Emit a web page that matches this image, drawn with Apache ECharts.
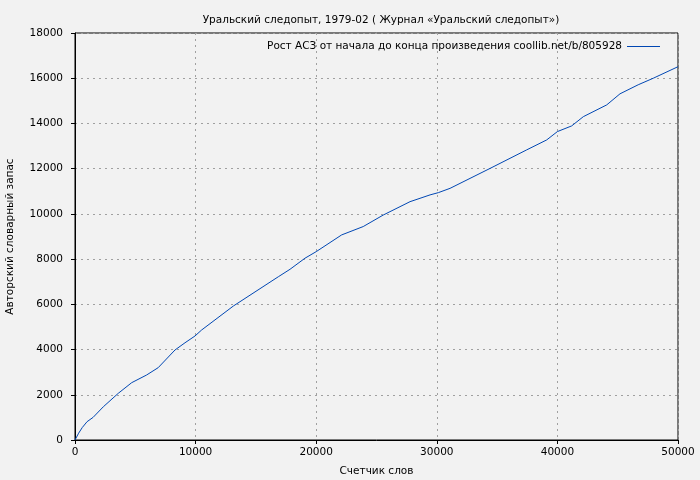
<!DOCTYPE html>
<html>
<head>
<meta charset="utf-8">
<script src="https://cdn.jsdelivr.net/npm/echarts@6/dist/echarts.min.js"></script>
<style>
  html, body { margin: 0; padding: 0; background: #f2f2f2; }
  #chart { width: 700px; height: 480px; }
</style>
</head>
<body>
<div id="chart"></div>
<script>
// words counted (x) and author's vocabulary (y)
var wordCount = [0, 300, 600, 1000, 1500, 2350, 3590, 4700, 5940, 6900, 8290, 9120, 9950,
  10500, 13130, 16860, 17830, 19070, 20000, 22110, 23900, 25560, 27780, 29440, 30130,
  31100, 34410, 37450, 39110, 40000, 41180, 42150, 44090, 45190, 46700, 47950, 50000];
var vocabulary = [0, 300, 550, 810, 1000, 1470, 2065, 2535, 2875, 3200, 3980, 4300, 4600,
  4865, 5925, 7220, 7550, 8040, 8330, 9070, 9440, 9950, 10540, 10840, 10940,
  11130, 12010, 12830, 13270, 13640, 13890, 14300, 14820, 15310, 15710, 16000, 16510];

var titleText = 'Уральский следопыт, 1979-02 ( Журнал «Уральский следопыт»)';
var seriesName = 'Рост АСЗ от начала до конца произведения coollib.net/b/805928';

var points = wordCount.map(function (x, i) { return [x, vocabulary[i]]; });

var chart = echarts.init(document.getElementById('chart'));
var font = 'DejaVu Sans';
var size = 10.5;
var plain = function (v) { return String(v); };
var option = {
  backgroundColor: '#f2f2f2',
  animation: false,
  title: {
    text: titleText,
    left: 376,
    textAlign: 'center',
    top: 10,
    textStyle: { fontFamily: font, fontSize: size, fontWeight: 'normal', color: '#000' }
  },
  legend: {
    data: [seriesName],
    right: 35,
    top: 36,
    align: 'right',
    itemWidth: 33,
    itemHeight: 1,
    itemGap: 5,
    icon: 'rect',
    textStyle: { fontFamily: font, fontSize: size, color: '#000' }
  },
  grid: {
    left: 75, right: 22, top: 33, bottom: 40,
    outerBoundsMode: 'none',
    show: true, borderColor: '#000', borderWidth: 1, backgroundColor: 'transparent'
  },
  xAxis: {
    type: 'value',
    min: 0, max: 50000, interval: 10000,
    name: 'Счетчик слов',
    nameLocation: 'middle',
    nameGap: 26,
    nameTextStyle: { fontFamily: font, fontSize: size, color: '#000' },
    axisLine: { lineStyle: { color: '#000', width: 1 } },
    axisTick: { inside: false, length: 4, lineStyle: { color: '#000' } },
    axisLabel: { fontFamily: font, fontSize: size, color: '#000', margin: 7, formatter: plain },
    splitLine: { show: true, lineStyle: { color: '#a0a0a0', type: [2, 4], width: 1 } }
  },
  yAxis: {
    type: 'value',
    min: 0, max: 18000, interval: 2000,
    name: 'Авторский словарный запас',
    nameLocation: 'middle',
    nameGap: 59,
    nameTextStyle: { fontFamily: font, fontSize: size, color: '#000' },
    axisLine: { show: true, lineStyle: { color: '#000', width: 1 } },
    axisTick: { show: true, inside: false, length: 4, lineStyle: { color: '#000' } },
    axisLabel: { fontFamily: font, fontSize: size, color: '#000', margin: 12, formatter: plain },
    splitLine: { show: true, lineStyle: { color: '#a0a0a0', type: [2, 4], width: 1 } }
  },
  series: [
    {
      name: seriesName,
      type: 'line',
      data: points,
      showSymbol: false,
      smooth: false,
      lineStyle: { color: '#0047b3', width: 1 },
      itemStyle: { color: '#0047b3' }
    }
  ]
};
chart.setOption(option);
</script>
</body>
</html>
